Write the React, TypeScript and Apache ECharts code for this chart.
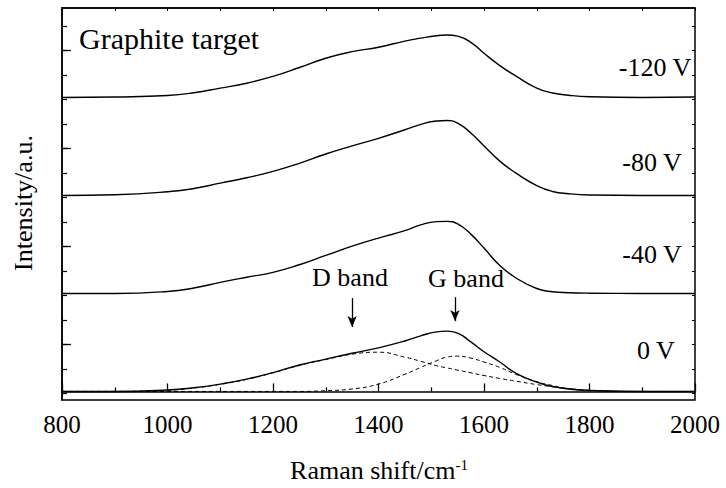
import { useEffect, useRef } from "react";
import * as echarts from "echarts";

// Raman shift sample positions (cm^-1)
const ramanShift = [800, 900, 1000, 1050, 1100, 1150, 1200, 1250, 1300, 1350, 1400, 1450, 1480, 1510, 1530, 1550, 1575, 1600, 1630, 1660, 1700, 1730, 1760, 1800, 1900, 2000];

// Intensities (a.u., above each spectrum's own baseline)
const intensity120 = [0, 0.02, 0.08, 0.19, 0.38, 0.58, 0.86, 1.22, 1.6, 1.87, 2.05, 2.3, 2.42, 2.52, 2.55, 2.5, 2.25, 1.8, 1.3, 0.88, 0.38, 0.18, 0.09, 0.03, 0, 0.02];
const intensity80 = [0, 0.03, 0.15, 0.28, 0.5, 0.72, 0.98, 1.31, 1.69, 2.02, 2.33, 2.68, 2.9, 3.04, 3.06, 2.95, 2.55, 2.02, 1.4, 0.92, 0.4, 0.16, 0.07, 0.02, 0, 0];
const intensity40 = [0, 0, 0.08, 0.22, 0.45, 0.66, 0.86, 1.17, 1.55, 1.93, 2.26, 2.56, 2.8, 2.93, 2.94, 2.84, 2.42, 1.85, 1.14, 0.64, 0.2, 0.07, 0.03, 0.01, 0, 0];
const intensity0 = [0, 0, 0.06, 0.15, 0.3, 0.5, 0.77, 1.08, 1.32, 1.56, 1.78, 2.06, 2.27, 2.43, 2.46, 2.38, 2.02, 1.62, 1.2, 0.75, 0.38, 0.2, 0.1, 0.04, 0, 0];
// Fitted components of the 0 V spectrum
const dBandFit = [0, 0, 0.05, 0.14, 0.29, 0.49, 0.76, 1.06, 1.3, 1.52, 1.6, 1.4, 1.23, 1.05, 0.96, 0.87, 0.76, 0.65, 0.53, 0.42, 0.28, 0.19, 0.12, 0.05, 0, 0];
const gBandFit = [0, 0, 0, 0, 0, 0, 0, 0, 0.03, 0.1, 0.3, 0.7, 0.98, 1.25, 1.4, 1.44, 1.36, 1.2, 0.98, 0.7, 0.4, 0.24, 0.12, 0.04, 0, 0];

// Vertical stacking offsets
const biasLabels = ["0 V", "-40 V", "-80 V", "-120 V"];
const biasOffsets = [0, 4, 8, 12];

// Band positions for arrows
const dBandPos = 1350;
const gBandPos = 1545;

const xTickLabels = [800, 1000, 1200, 1400, 1600, 1800, 2000];

export default function App() {
  const ref = useRef<HTMLDivElement>(null);
  useEffect(() => {
    const chart = echarts.init(ref.current!, null, { renderer: "svg" });
    const font = "Liberation Serif, Times New Roman, serif";
    const pair = (vals: number[], off: number) => ramanShift.map((x, i) => [x, vals[i] + off]);
    const line = (name: string, vals: number[], off: number, dashed: boolean, extra: any = {}) => ({
      type: "line",
      name,
      xAxisIndex: 0,
      yAxisIndex: 0,
      data: pair(vals, off),
      symbol: "none",
      showSymbol: false,
      smooth: 0.5,
      silent: true,
      z: dashed ? 2 : 3,
      lineStyle: { color: "#000", width: dashed ? 1 : 1.4, type: dashed ? [4, 3] : "solid" },
      ...extra,
    });
    const txt = (text: string, x: number, y: number, size: number, align = "center") => ({
      type: "text",
      x,
      y,
      silent: true,
      style: { text, fontSize: size, fontFamily: font, fill: "#000", align, verticalAlign: "middle" },
    });

    chart.setOption({
      animation: false,
      textStyle: { fontFamily: font },
      grid: [
        { left: 62, right: 31, top: 8, bottom: 88, show: true, borderColor: "#000", borderWidth: 1.5 },
        { left: 62, right: 31, top: 25.8, bottom: 94.7 },
        { left: 62, right: 31, top: 50.3, bottom: 143.7 },
      ],
      xAxis: [
        {
          gridIndex: 0, type: "value", min: 800, max: 2000, interval: 200, position: "bottom",
          axisLine: { show: true, lineStyle: { color: "#000", width: 1.5 } },
          axisTick: { show: true, inside: true, length: 8, lineStyle: { color: "#000", width: 1.3 } },
          minorTick: { show: true, splitNumber: 2, length: 4, lineStyle: { color: "#000", width: 1.2 } },
          splitLine: { show: false },
          axisLabel: {
            color: "#000", fontSize: 25, fontFamily: font, margin: 12,
            formatter: (v: number) => (xTickLabels.includes(v) ? String(v) : ""),
          },
        },
        {
          gridIndex: 0, type: "value", min: 800, max: 2000, interval: 100, position: "top",
          axisLine: { show: true, lineStyle: { color: "#000", width: 1.5 } },
          axisTick: { show: true, inside: true, length: 3, lineStyle: { color: "#000", width: 1 } },
          axisLabel: { show: false }, splitLine: { show: false },
        },
        { gridIndex: 1, type: "value", min: 800, max: 2000, show: false },
        { gridIndex: 2, type: "value", min: 800, max: 2000, show: false },
      ],
      yAxis: [
        {
          gridIndex: 0, type: "value", min: -0.35, max: 15.65,
          axisLine: { show: true, lineStyle: { color: "#000", width: 1.5 } },
          axisTick: { show: false }, axisLabel: { show: false }, splitLine: { show: false },
        },
        {
          gridIndex: 1, type: "value", min: 0, max: 15, interval: 1, position: "left",
          axisLine: { show: false }, axisLabel: { show: false }, splitLine: { show: false },
          axisTick: { show: true, inside: true, length: 5, lineStyle: { color: "#000", width: 1.2 } },
        },
        {
          gridIndex: 1, type: "value", min: 0, max: 15, interval: 1, position: "right",
          axisLine: { show: false }, axisLabel: { show: false }, splitLine: { show: false },
          axisTick: { show: true, inside: true, length: 3, lineStyle: { color: "#000", width: 1 } },
        },
        {
          gridIndex: 2, type: "value", min: 0, max: 12, interval: 4, position: "left",
          axisLine: { show: false }, axisLabel: { show: false }, splitLine: { show: false },
          axisTick: { show: true, inside: true, length: 9, lineStyle: { color: "#000", width: 1.3 } },
        },
      ],
      series: [
        line("D band fit", dBandFit, biasOffsets[0], true),
        line("G band fit", gBandFit, biasOffsets[0], true),
        line(biasLabels[0], intensity0, biasOffsets[0], false, {
          markLine: {
            silent: true,
            symbol: ["none", "arrow"],
            symbolSize: [7, 11],
            label: { show: false },
            lineStyle: { color: "#000", width: 1.3, type: "solid" },
            data: [
              [{ coord: [dBandPos, 3.81] }, { coord: [dBandPos, 2.63] }],
              [{ coord: [gBandPos, 3.85] }, { coord: [gBandPos, 2.87] }],
            ],
          },
        }),
        line(biasLabels[1], intensity40, biasOffsets[1], false),
        line(biasLabels[2], intensity80, biasOffsets[2], false),
        line(biasLabels[3], intensity120, biasOffsets[3], false),
      ],
      graphic: [
        txt("Graphite target", 79, 38, 30, "left"),
        txt(biasLabels[3], 655, 67, 26),
        txt(biasLabels[2], 652, 162, 26),
        txt(biasLabels[1], 652, 254, 26),
        txt(biasLabels[0], 656, 350, 26),
        txt("D band", 350, 277, 26),
        txt("G band", 466, 278, 26),
        {
          type: "text", x: 23, y: 203, rotation: Math.PI / 2, silent: true,
          style: { text: "Intensity/a.u.", fontSize: 26, fontFamily: font, fill: "#000", align: "center", verticalAlign: "middle" },
        },
        {
          type: "text", x: 379, y: 470, silent: true,
          style: {
            text: "Raman shift/cm{sup|-1}", fontSize: 26, fontFamily: font, fill: "#000", align: "center", verticalAlign: "middle",
            rich: { sup: { fontSize: 15, fontFamily: font, fill: "#000", verticalAlign: "top" } },
          },
        },
      ],
    });
    return () => chart.dispose();
  }, []);
  return <div ref={ref} style={{ position: "fixed", left: 0, top: 0, width: 726, height: 488, background: "#fff" }} />;
}
